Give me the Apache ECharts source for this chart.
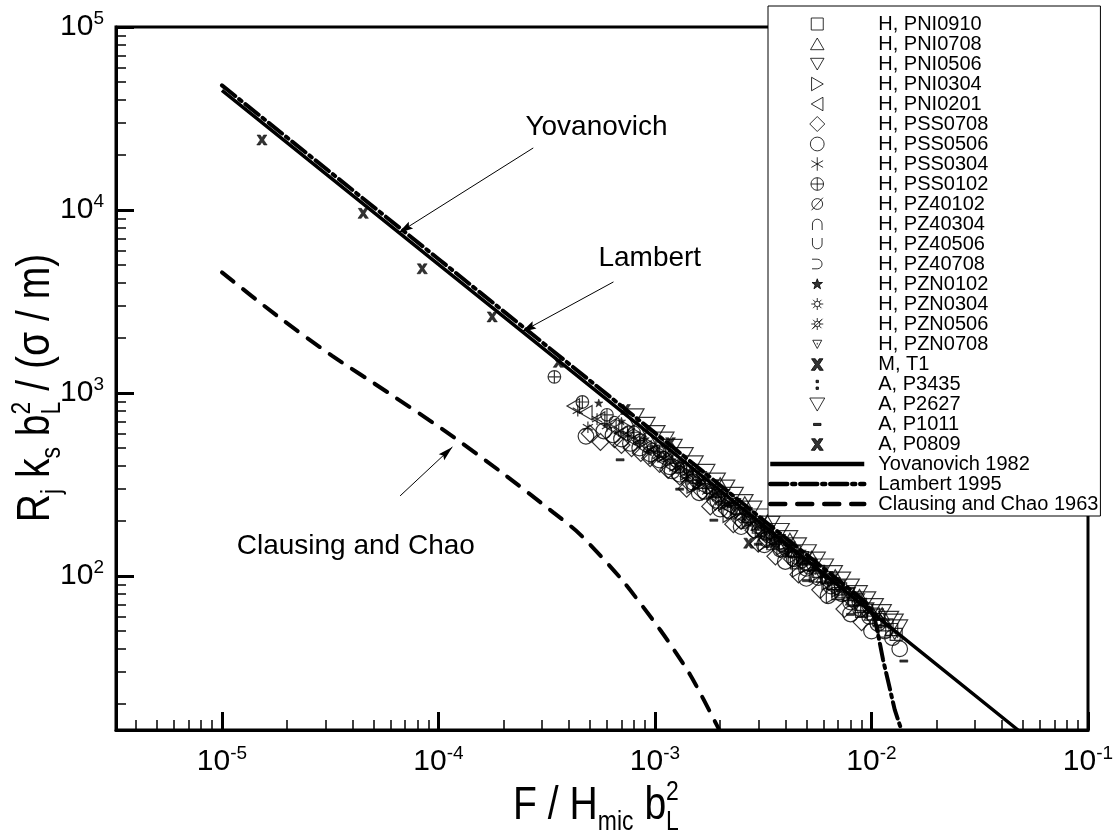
<!DOCTYPE html>
<html><head><meta charset="utf-8">
<script src="https://cdn.jsdelivr.net/npm/echarts@6/dist/echarts.min.js"></script>
<style>html,body{margin:0;padding:0;background:#fff}#c{width:1120px;height:840px}</style>
</head><body><div id="c"></div>
<script>
// ================= DATA =================
const xTickExps = [-5, -4, -3, -2, -1];
const yTickExps = [2, 3, 4, 5];
const xRange = [3.24e-6, 0.1];
const yRange = [14.4, 1e5];

// model curves [F/(H b^2), R k b^2/(sigma/m)]
const yovanovich1982 = [[1e-5, 45000], [1e-4, 5050], [1e-3, 566], [1e-2, 63.5], [0.0475, 14.4]];
const lambert1995 = [[1e-5, 48000], [1e-4, 5400], [1e-3, 605], [5e-3, 131], [8e-3, 84], [9.5e-3, 71],
  [1.03e-2, 60], [1.08e-2, 46], [1.13e-2, 35], [1.19e-2, 27], [1.28e-2, 18.6], [1.40e-2, 13.5]];
const clausingChao1963 = [[1e-5, 4560], [1.79e-5, 2650], [3.23e-5, 1597], [5.8e-5, 1012], [1.09e-4, 611],
  [1.93e-4, 373], [3.4e-4, 222], [4.48e-4, 170], [6.92e-4, 97.5], [1.06e-3, 50.5], [1.46e-3, 28.6], [1.97e-3, 14.6]];

// measured / analysed data sets
const H_PNI0910 = [[3.0e-3,185],[3.3e-3,172],[3.5e-3,150],[3.6e-3,160],[4.0e-3,146],[4.4e-3,136],[4.5e-3,118],[4.8e-3,126],[5.2e-3,116],[5.5e-3,100],[5.7e-3,106],[6.2e-3,98],[6.7e-3,91],[7.0e-3,80],[7.2e-3,85],[7.8e-3,79],[8.3e-3,74],[8.9e-3,70],[9.0e-3,64],[9.5e-3,65],[1.02e-2,62],[1.08e-2,58],[1.15e-2,50],[1.18e-2,54],[1.24e-2,51],[1.3e-2,48]];
const H_PNI0708 = [[1.5e-3,360],[1.7e-3,325],[1.9e-3,290],[2.0e-3,318],[2.15e-3,262],[2.4e-3,236],[2.6e-3,250],[2.7e-3,212],[3.0e-3,192],[3.3e-3,198],[3.4e-3,170],[3.8e-3,152],[4.2e-3,158],[4.3e-3,138],[4.8e-3,124],[5.3e-3,126],[5.4e-3,111],[6.0e-3,100],[6.7e-3,91],[6.8e-3,100],[7.4e-3,82],[8.2e-3,75],[8.8e-3,78],[9.0e-3,68],[1.0e-2,62],[1.1e-2,57],[1.12e-2,62]];
const H_PNI0506 = [[1.1e-3,470],[1.25e-3,430],[1.4e-3,385],[1.6e-3,345],[1.8e-3,310],[2.05e-3,275],[2.3e-3,245],[2.6e-3,218],[2.9e-3,196],[3.3e-3,174],[3.7e-3,156],[4.1e-3,142],[4.6e-3,128],[5.2e-3,114],[5.8e-3,104],[6.4e-3,95],[7.0e-3,88],[7.8e-3,80],[8.6e-3,74],[9.5e-3,66],[1.05e-2,61]];
const H_PNI0304 = [[7.5e-4,640],[8.5e-4,580],[9.5e-4,520],[1.0e-3,450],[1.1e-3,460],[1.25e-3,410],[1.4e-3,365],[1.5e-3,310],[1.6e-3,325],[1.85e-3,285],[2.1e-3,250],[2.2e-3,215],[2.4e-3,222],[2.7e-3,200],[3.1e-3,178],[3.2e-3,150],[3.5e-3,158],[3.9e-3,143],[4.4e-3,128],[4.6e-3,108],[5.0e-3,113],[5.6e-3,102],[6.3e-3,92],[6.6e-3,78],[7.0e-3,84]];
const H_PNI0201 = [[4.2e-4,850],[4.8e-4,780],[5.5e-4,720],[6.2e-4,660],[7.0e-4,600],[8.0e-4,550],[9.0e-4,500],[1.05e-3,440],[1.2e-3,395],[1.4e-3,350],[1.6e-3,310],[1.9e-3,270],[2.2e-3,235],[2.6e-3,205],[3.0e-3,178],[3.5e-3,155],[4.0e-3,138]];
const H_PSS0708 = [[5.0e-4,600],[5.6e-4,540],[6.5e-4,560],[7.0e-4,520],[7.8e-4,500],[8.6e-4,470],[9.5e-4,440],[1.05e-3,410],[1.15e-3,380],[1.3e-3,350],[1.4e-3,300],[1.45e-3,320],[1.65e-3,290],[1.8e-3,240],[1.9e-3,255],[2.15e-3,228],[2.3e-3,192],[2.5e-3,200],[2.85e-3,178],[3.0e-3,150],[3.3e-3,158],[3.6e-3,128],[3.8e-3,140],[4.3e-3,124],[4.6e-3,102],[5.8e-3,84],[7.5e-3,66],[9.0e-3,56]];
const H_PSS0506 = [[4.8e-4,580],[5.8e-4,620],[6.4e-4,590],[7.0e-4,560],[7.7e-4,530],[8.5e-4,500],[9.5e-4,465],[1.05e-3,430],[1.17e-3,395],[1.2e-3,375],[1.3e-3,360],[1.5e-3,325],[1.6e-3,285],[1.7e-3,290],[1.95e-3,258],[2.0e-3,232],[2.2e-3,228],[2.5e-3,186],[2.55e-3,200],[2.9e-3,178],[3.2e-3,148],[3.3e-3,158],[3.8e-3,140],[4.0e-3,120],[4.4e-3,124],[5.0e-3,110],[5.0e-3,97],[5.7e-3,98],[6.3e-3,78],[6.5e-3,88],[7.3e-3,80],[8.0e-3,72],[8.0e-3,62],[8.9e-3,66],[9.8e-3,60],[1.0e-2,50],[1.07e-2,55],[1.15e-2,50],[1.25e-2,46],[1.35e-2,40]];
const H_PSS0304 = [[4.4e-4,800],[4.9e-4,650],[5.4e-4,720],[6.0e-4,660],[6.8e-4,620],[7.5e-4,590],[8.5e-4,540],[9.5e-4,490],[1.1e-3,440],[1.25e-3,390],[1.4e-3,350],[1.6e-3,310],[1.85e-3,275],[2.1e-3,245]];
const H_PSS0102 = [[3.43e-4,1225],[4.62e-4,893],[6.0e-4,760],[8.0e-4,610],[1.05e-3,480],[1.4e-3,370]];
const H_PZ40102 = [[6.5e-4,700],[7.5e-4,620],[8.5e-4,560],[9.7e-4,500],[1.1e-3,450],[1.3e-3,390],[1.5e-3,340],[1.75e-3,300],[2.0e-3,262],[2.35e-3,230],[2.7e-3,200],[3.1e-3,175],[3.6e-3,153],[4.2e-3,135],[4.8e-3,118]];
const H_PZ40304 = [[1.3e-3,400],[1.8e-3,300],[2.5e-3,222],[3.4e-3,168],[4.6e-3,126],[6.2e-3,96],[8.2e-3,75]];
const H_PZ40506 = [[2.0e-3,270],[2.7e-3,205],[3.6e-3,158],[4.8e-3,121],[6.4e-3,93],[8.5e-3,72],[1.1e-2,55]];
const H_PZ40708 = [[3.0e-3,190],[4.0e-3,146],[5.3e-3,112],[7.0e-3,87],[9.2e-3,67],[1.2e-2,50]];
const H_PZN0102 = [[5.5e-4,880],[7.0e-4,700],[9.0e-4,560],[1.2e-3,430],[1.6e-3,330],[2.2e-3,245]];
const H_PZN0304 = [[1.0e-3,500],[1.4e-3,370],[1.9e-3,280],[2.6e-3,210],[3.5e-3,160],[4.7e-3,122],[6.3e-3,94]];
const H_PZN0506 = [[1.6e-3,335],[2.2e-3,250],[3.0e-3,188],[4.1e-3,142],[5.5e-3,108],[7.3e-3,83],[9.6e-3,64]];
const H_PZN0708 = [[2.5e-3,228],[3.3e-3,175],[4.4e-3,134],[5.9e-3,102],[7.8e-3,79],[1.03e-2,60],[1.28e-2,47]];
const M_T1 = [[1.53e-5,24270],[4.49e-5,9640],[8.41e-5,4800],[1.77e-4,2620]];
const A_P3435 = [[1.2e-3,470],[2.0e-3,285],[3.2e-3,186],[5.0e-3,120],[8.0e-3,78]];
const A_P2627 = [[8.0e-4,740],[9.0e-4,665],[1.0e-3,600],[1.1e-3,552],[1.2e-3,505],[1.35e-3,455],[1.5e-3,410],[1.7e-3,368],[1.9e-3,330],[2.1e-3,302],[2.3e-3,276],[2.55e-3,252],[2.8e-3,232],[3.1e-3,210],[3.4e-3,192],[3.75e-3,175],[4.1e-3,160],[4.5e-3,146],[5.0e-3,134],[5.5e-3,122],[6.0e-3,112],[6.6e-3,103],[7.2e-3,95],[7.9e-3,87],[8.6e-3,80],[9.4e-3,74],[1.02e-2,68],[1.11e-2,63],[1.2e-2,58],[1.26e-2,56],[1.32e-2,52]];
const A_P1011 = [[6.9e-4,434],[1.3e-3,300],[1.87e-3,203],[3.0e-3,150],[5.0e-3,95],[8.0e-3,62],[1.41e-2,34.5]];
const A_P0809 = [[3.58e-4,1479],[7.31e-4,817],[1.18e-3,538],[2.71e-3,152]];

// annotation anchors (data units)
const annotations = [
  {text: 'Yovanovich', textAt: [2.52e-4, 28440], head: [6.52e-5, 7480], tail: [2.74e-4, 21830]},
  {text: 'Lambert', textAt: [5.48e-4, 5470], head: [2.415e-4, 2153], tail: [6.43e-4, 4046]},
  {text: 'Clausing and Chao', textAt: [1.17e-5, 146], head: [1.16e-4, 507], tail: [6.65e-5, 274]}
];

// ================= STYLES =================
const F = 'M0,0M10,10';
const CIRC = (cx, cy, r) => `M${cx - r},${cy}A${r},${r},0,1,1,${cx + r},${cy}A${r},${r},0,1,1,${cx - r},${cy}Z`;
const SYM = {
  sq: F + 'M1,1H9V9H1Z',
  triUp: F + 'M5,1L9.5,8.8H0.5Z',
  triDown: F + 'M0.5,1.2H9.5L5,9Z',
  triRight: F + 'M1.2,0.5L9,5L1.2,9.5Z',
  triLeft: F + 'M8.8,0.5V9.5L1,5Z',
  diamond: F + 'M5,0L10,5L5,10L0,5Z',
  circle: F + CIRC(5, 5, 4.6),
  aster: F + 'M5,0.5V9.5M1.1,2.75L8.9,7.25M1.1,7.25L8.9,2.75',
  oplus: F + CIRC(5, 5, 4.2) + 'M0.8,5H9.2M5,0.8V9.2',
  empty: F + CIRC(5, 5, 3.6) + 'M1.2,9.2L8.8,0.8',
  cap: F + 'M1.8,9V5A3.2,3.2,0,0,1,8.2,5V9',
  cup: F + 'M1.8,1V5A3.2,3.2,0,0,0,8.2,5V1',
  sup: F + 'M1.5,1.8H5A3.2,3.2,0,0,1,5,8.2H1.5',
  star: F + 'M5,1.5L5.9,4H8.5L6.4,5.6L7.2,8.2L5,6.6L2.8,8.2L3.6,5.6L1.5,4H4.1Z',
  sun: F + CIRC(5, 5, 1.8) + 'M5,1V3.2M5,6.8V9M1,5H3.2M6.8,5H9M2.2,2.2L3.7,3.7M6.3,6.3L7.8,7.8M2.2,7.8L3.7,6.3M6.3,3.7L7.8,2.2',
  sunSlash: F + CIRC(5, 5, 1.8) + 'M5,1V3.2M5,6.8V9M1,5H3.2M6.8,5H9M2.2,2.2L3.7,3.7M6.3,6.3L7.8,7.8M2.2,7.8L3.7,6.3M6.3,3.7L7.8,2.2M1.5,8.5L8.5,1.5',
  triSmall: F + 'M2,2.5H8L5,8ZM5,4.2V5.4',
  xMark: F + 'M1.2,1.5H3.7L5,3.6L6.3,1.5H8.8L6.3,5.3L9,9.2H6.5L5,6.9L3.5,9.2H1L3.7,5.3Z',
  colon: F + 'M4.2,2.5H5.8V4.1H4.2ZM4.2,7H5.8V8.6H4.2Z',
  dash: F + 'M2.5,4.6H7.5V6H2.5Z',
  bigTriDown: F + 'M0,1H10L5,9.7Z'
};
const scatterSets = [
  {name: 'H, PNI0910', data: H_PNI0910, sym: 'sq', size: 15},
  {name: 'H, PNI0708', data: H_PNI0708, sym: 'triUp', size: 16},
  {name: 'H, PNI0506', data: H_PNI0506, sym: 'triDown', size: 16},
  {name: 'H, PNI0304', data: H_PNI0304, sym: 'triRight', size: 16},
  {name: 'H, PNI0201', data: H_PNI0201, sym: 'triLeft', size: 16},
  {name: 'H, PSS0708', data: H_PSS0708, sym: 'diamond', size: 17},
  {name: 'H, PSS0506', data: H_PSS0506, sym: 'circle', size: 17},
  {name: 'H, PSS0304', data: H_PSS0304, sym: 'aster', size: 13},
  {name: 'H, PSS0102', data: H_PSS0102, sym: 'oplus', size: 15},
  {name: 'H, PZ40102', data: H_PZ40102, sym: 'empty', size: 14},
  {name: 'H, PZ40304', data: H_PZ40304, sym: 'cap', size: 13},
  {name: 'H, PZ40506', data: H_PZ40506, sym: 'cup', size: 13},
  {name: 'H, PZ40708', data: H_PZ40708, sym: 'sup', size: 13},
  {name: 'H, PZN0102', data: H_PZN0102, sym: 'star', size: 12, fill: true},
  {name: 'H, PZN0304', data: H_PZN0304, sym: 'sun', size: 12},
  {name: 'H, PZN0506', data: H_PZN0506, sym: 'sunSlash', size: 12},
  {name: 'H, PZN0708', data: H_PZN0708, sym: 'triSmall', size: 12},
  {name: 'M, T1', data: M_T1, sym: 'xMark', size: 13, fill: true},
  {name: 'A, P3435', data: A_P3435, sym: 'colon', size: 13, fill: true},
  {name: 'A, P2627', data: A_P2627, sym: 'bigTriDown', size: 20},
  {name: 'A, P1011', data: A_P1011, sym: 'dash', size: 16, fill: true},
  {name: 'A, P0809', data: A_P0809, sym: 'xMark', size: 13, fill: true}
];
const lineSets = [
  {name: 'Yovanovich 1982', data: yovanovich1982, type: 'solid', width: 3.5},
  {name: 'Lambert 1995', data: lambert1995, type: [17, 5, 3, 5], width: 4},
  {name: 'Clausing and Chao 1963', data: clausingChao1963, type: [15, 12], width: 4}
];

const FONT = 'Liberation Sans';
const L = p => [Math.log10(p[0]), Math.log10(p[1])];
const xMin = Math.log10(xRange[0]), xMax = Math.log10(xRange[1]);
const yMin = Math.log10(yRange[0]), yMax = Math.log10(yRange[1]);
function minorTicks(exps, lo, hi) {
  const out = [];
  [exps[0] - 1].concat(exps).forEach(e => {
    for (let k = 2; k <= 9; k++) { const v = e + Math.log10(k); if (v > lo && v < hi) out.push(v); }
  });
  return out;
}
const xMinor = minorTicks(xTickExps, xMin, xMax);
const yMinor = minorTicks(yTickExps, yMin, yMax);

const labelRich = {
  b: {fontSize: 30, lineHeight: 36, color: '#000', fontFamily: FONT},
  s: {fontSize: 19, lineHeight: 19, verticalAlign: 'top', color: '#000', fontFamily: FONT}
};
const powFmt = v => '{b|10}{s|' + Math.round(v) + '}';

function mainAxis(pos, lo, hi, ticks, margin) {
  return {
    type: 'value', position: pos, min: lo, max: hi,
    axisLine: {show: true, onZero: false, lineStyle: {color: '#000', width: 3}},
    axisTick: {show: true, inside: true, length: 18, customValues: ticks, lineStyle: {color: '#000', width: 3}},
    axisLabel: {show: true, customValues: ticks, margin: margin, fontSize: 30, fontFamily: FONT, color: '#000',
                formatter: powFmt, rich: labelRich},
    splitLine: {show: false}, minorTick: {show: false}
  };
}
function minorAxis(pos, lo, hi, ticks) {
  return {
    type: 'value', position: pos, offset: 0, min: lo, max: hi,
    axisLine: {show: false, onZero: false},
    axisTick: {show: true, inside: true, length: 10, customValues: ticks, lineStyle: {color: '#000', width: 1.5}},
    axisLabel: {show: false}, splitLine: {show: false}
  };
}

const series = [];
scatterSets.forEach(s => {
  series.push({
    type: 'scatter', name: s.name, data: s.data.map(L),
    symbol: 'path://' + SYM[s.sym], symbolSize: s.size, symbolKeepAspect: true,
    itemStyle: s.fill ? {color: '#000', borderColor: '#000', borderWidth: 0.6}
                      : {color: 'none', borderColor: '#000', borderWidth: 1.2},
    silent: true, z: 2, xAxisIndex: 0, yAxisIndex: 0
  });
});
lineSets.forEach((s, i) => {
  const ser = {
    type: 'line', name: s.name, data: s.data.map(L), symbol: 'none', showSymbol: false,
    smooth: i === 2 ? 0.25 : false,
    lineStyle: {color: '#000', width: s.width, type: s.type, cap: i === 0 ? 'butt' : 'round'},
    itemStyle: {color: '#000'}, silent: true, z: 3, xAxisIndex: 0, yAxisIndex: 0
  };
  if (i === 0) {
    ser.markLine = {
      silent: true, animation: false,
      symbol: ['none', 'path://M0,0M20,20M10,10L12.7,20L10,18.4L7.3,20Z'], symbolSize: 30,
      label: {show: false},
      lineStyle: {color: '#000', width: 1, type: 'solid'},
      emphasis: {disabled: true},
      data: annotations.map(a => [{coord: L(a.tail)}, {coord: L(a.head)}])
    };
  }
  series.push(ser);
});

const legendData = scatterSets.map(s => ({name: s.name}))
  .concat(lineSets.map(s => ({name: s.name, itemStyle: {opacity: 0, color: 'none', borderWidth: 0},
                              lineStyle: {width: 4.5}})));

const option = {
  animation: false,
  backgroundColor: '#fff',
  textStyle: {fontFamily: FONT, color: '#000'},
  grid: {left: 116, right: 32, top: 27, bottom: 110, show: true, borderColor: '#000', borderWidth: 3,
         backgroundColor: 'transparent', containLabel: false, outerBoundsMode: 'none'},
  xAxis: [mainAxis('bottom', xMin, xMax, xTickExps, 14), minorAxis('bottom', xMin, xMax, xMinor)],
  yAxis: [mainAxis('left', yMin, yMax, yTickExps, 12), minorAxis('left', yMin, yMax, yMinor)],
  legend: {
    orient: 'vertical', left: 768, top: 6, padding: [8, 2, 2, 0], itemGap: 0,
    itemWidth: 94, itemHeight: 15, symbolKeepAspect: true, selectedMode: false,
    backgroundColor: '#fff', borderColor: '#000', borderWidth: 1, borderRadius: 0,
    itemStyle: {borderWidth: 1},
    textStyle: {fontFamily: FONT, fontSize: 20, color: '#000', lineHeight: 20, padding: [0, 0, 0, 9]},
    data: legendData
  },
  series: series
};

const chart = echarts.init(document.getElementById('c'), null, {renderer: 'canvas'});
chart.setOption(option);

// ---- text annotations & axis titles ----
const ctx = document.createElement('canvas').getContext('2d');
function tw(t, fs) { ctx.font = fs + 'px "' + FONT + '"'; return ctx.measureText(t).width; }
function titleGroup(pieces, baseX, baseY, rotate, sx) {
  let total = 0;
  pieces.forEach(p => { if (!p.noadv) total += tw(p.t, p.fs); });
  let x = -total / 2;
  const children = [];
  pieces.forEach(p => {
    children.push({type: 'text', x: x, y: (p.dy || 0) - 0.33 * p.fs,
      style: {text: p.t, fontSize: p.fs, fontFamily: FONT, fill: '#000', align: 'left', verticalAlign: 'middle'}});
    if (!p.noadv) x += tw(p.t, p.fs);
  });
  return {type: 'group', x: baseX, y: baseY, rotation: rotate ? Math.PI / 2 : 0, scaleX: sx,
          children: children, silent: true};
}
const gfx = [];
annotations.forEach(a => {
  const p = chart.convertToPixel({gridIndex: 0}, L(a.textAt));
  gfx.push({type: 'text', x: p[0], y: p[1], silent: true,
    style: {text: a.text, fontSize: 28, fontFamily: FONT, fill: '#000', align: 'left', verticalAlign: 'middle'}});
});
gfx.push(titleGroup([
  {t: 'F / H', fs: 46}, {t: 'mic', fs: 27, dy: 10}, {t: ' b', fs: 46},
  {t: '2', fs: 27, dy: -20, noadv: true}, {t: 'L', fs: 27, dy: 10}
], 596, 821, false, 0.85));
gfx.push(titleGroup([
  {t: 'R', fs: 46}, {t: 'j', fs: 27, dy: 10}, {t: ' k', fs: 46}, {t: 's', fs: 27, dy: 10},
  {t: ' b', fs: 46}, {t: '2', fs: 27, dy: -20, noadv: true}, {t: 'L', fs: 27, dy: 10},
  {t: ' / (σ / m)', fs: 46}
], 51, 388, true, 0.85));
chart.setOption({graphic: gfx});
</script>
</body></html>
